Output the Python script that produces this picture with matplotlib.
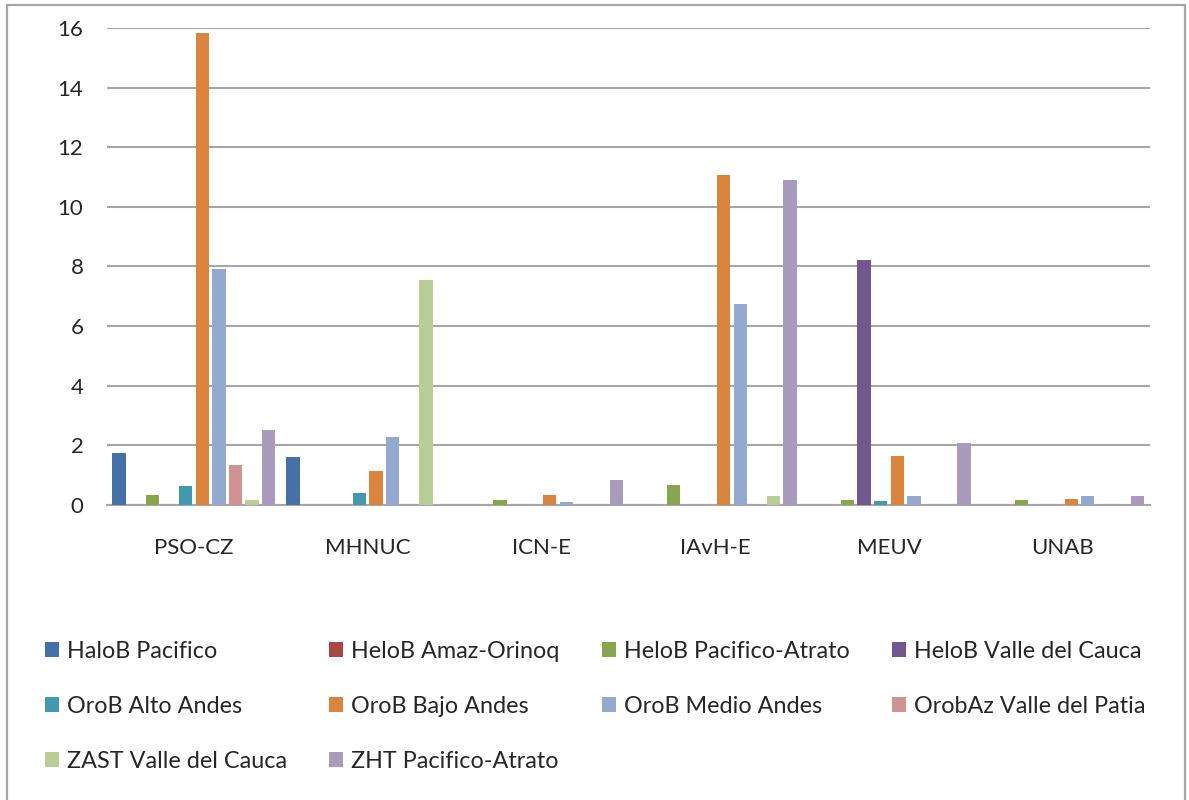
import numpy as np
import matplotlib.pyplot as plt
from matplotlib.patches import Rectangle

plt.rcParams['font.family'] = ['Lato', 'DejaVu Sans']

categories = ['PSO-CZ', 'MHNUC', 'ICN-E', 'IAvH-E', 'MEUV', 'UNAB']

series_names = ['HaloB Pacifico', 'HeloB Amaz-Orinoq', 'HeloB Pacifico-Atrato',
                'HeloB Valle del Cauca', 'OroB Alto Andes', 'OroB Bajo Andes',
                'OroB Medio Andes', 'OrobAz Valle del Patia', 'ZAST Valle del Cauca',
                'ZHT Pacifico-Atrato']

# one row per series, one value per category
halob_pacifico   = [1.75, 1.62, 0.0, 0.0, 0.0, 0.0]
helob_amaz       = [0.0, 0.0, 0.0, 0.0, 0.0, 0.0]
helob_pac_atrato = [0.34, 0.0, 0.17, 0.67, 0.17, 0.15]
helob_valle      = [0.0, 0.0, 0.0, 0.0, 8.2, 0.0]
orob_alto        = [0.64, 0.41, 0.0, 0.0, 0.12, 0.0]
orob_bajo        = [15.82, 1.14, 0.34, 11.07, 1.65, 0.2]
orob_medio       = [7.9, 2.26, 0.11, 6.73, 0.28, 0.31]
orobaz_patia     = [1.32, 0.0, 0.0, 0.0, 0.0, 0.0]
zast_valle       = [0.17, 7.55, 0.0, 0.31, 0.0, 0.0]
zht_pac_atrato   = [2.52, 0.0, 0.82, 10.9, 2.09, 0.31]

values = [halob_pacifico, helob_amaz, helob_pac_atrato, helob_valle, orob_alto,
          orob_bajo, orob_medio, orobaz_patia, zast_valle, zht_pac_atrato]

colors = ['#4472A8', '#AA4643', '#89A54E', '#71588F', '#4198AF',
          '#DB843D', '#93A9CF', '#D19392', '#B9CD96', '#A99BBD']

fig = plt.figure(figsize=(11.89, 8), dpi=100)
ax = fig.add_axes([0.090, 0.369, 0.877, 0.596])

# outer chart frame
fig.patches.append(Rectangle((0.006, -0.05), 0.991, 1.044, transform=fig.transFigure,
                             fill=False, edgecolor='#A6A6A6', linewidth=1.6))

x = np.arange(len(categories))
slot = 1.0 / 10.45
handles = []
for j, (name, vals) in enumerate(zip(series_names, values)):
    b = ax.bar(x + (j - 4.5) * slot, vals, width=slot * 0.8, color=colors[j],
               label=name, zorder=3)
    handles.append(b)

ax.set_xlim(-0.5, len(categories) - 0.5)
ax.set_ylim(0, 16)
ax.set_yticks(np.arange(0, 17, 2))
ax.set_xticks(x)
ax.set_xticklabels(categories)
ax.yaxis.grid(True, color='#A6A6A6', linewidth=1.5)
ax.set_axisbelow(True)
for s in ['left', 'right', 'top']:
    ax.spines[s].set_visible(False)
ax.spines['bottom'].set_color('#A6A6A6')
ax.spines['bottom'].set_linewidth(1.5)
ax.tick_params(axis='both', length=0, labelsize=16, colors='#262626')
ax.tick_params(axis='y', pad=17)
ax.tick_params(axis='x', pad=24)

# legend laid out row by row, four columns
order = [0, 4, 8, 1, 5, 9, 2, 6, 3, 7]
leg = fig.legend([handles[i] for i in order], [series_names[i] for i in order],
                 ncol=4, loc='upper left', bbox_to_anchor=(0.030, 0.211),
                 frameon=False, fontsize=16.8, handlelength=0.6, handleheight=0.6,
                 handletextpad=0.35, columnspacing=1.8, labelspacing=1.46,
                 borderaxespad=0)
for t in leg.get_texts():
    t.set_color('#262626')

fig.savefig('out.png', dpi=100)
